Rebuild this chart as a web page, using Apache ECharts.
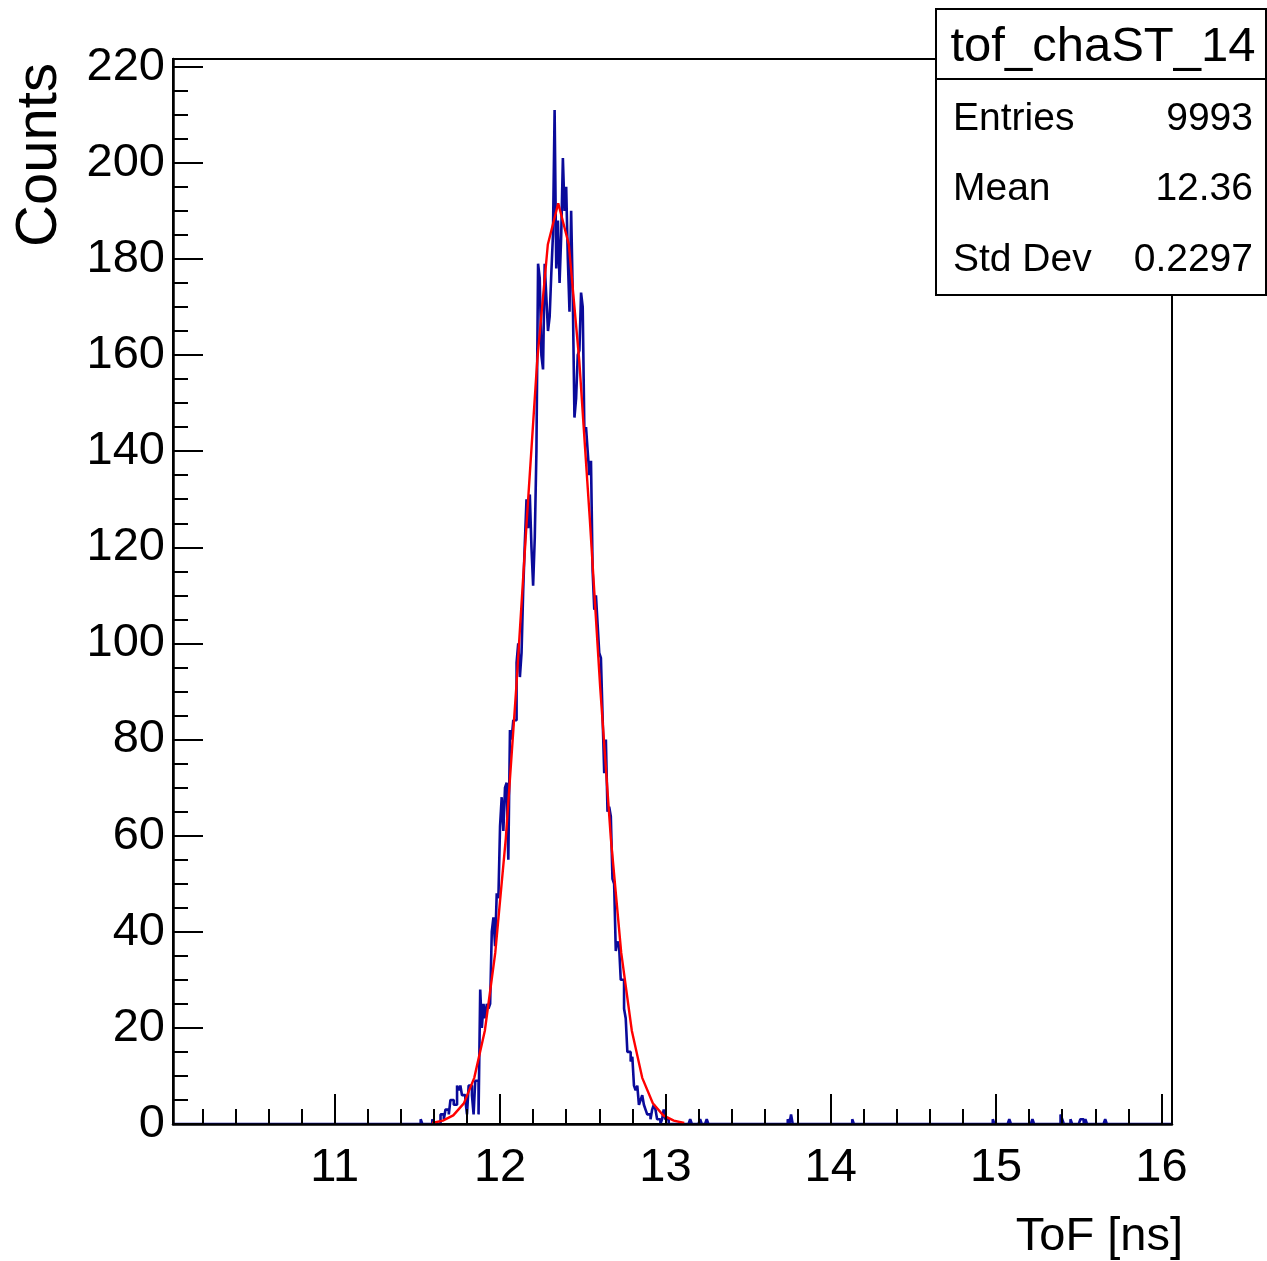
<!DOCTYPE html>
<html><head><meta charset="utf-8">
<script src="https://cdn.jsdelivr.net/npm/echarts@6/dist/echarts.min.js"></script>
<style>html,body{margin:0;padding:0;background:#fff}#c{width:1267px;height:1261px}</style>
</head><body><div id="c"></div>
<script>
// ---- data ----
const binStart = 11.50;   // left edge of first listed bin (ns)
const binWidth = 0.01;    // ns
const peakCounts = [
  0,0,1,0,0,0,0,0,0,1,          // 11.50-11.59
  0,0,0,0,2,2,1,3,3,2,          // 11.60-11.69
  5,5,4,4,8,7,8,6,6,5,          // 11.70-11.79
  2,8,8,6,2,9,9,2,28,20,        // 11.80-11.89
  25,22,25,24,25,40,43,37,48,47,// 11.90-11.99
  62,68,61,70,71,55,82,80,84,84,// 12.00-12.09
  96,100,93,98,111,121,130,124,131,120, // 12.10-12.19
  112,122,140,179,176,160,157,179,172,165, // 12.20-12.29
  168,177,185,211,178,188,175,185,201,190, // 12.30-12.39
  195,180,169,190,172,147,151,160,161,173, // 12.40-12.49
  170,144,145,140,135,138,115,107,110,104, // 12.50-12.59
  98,97,85,73,80,65,66,64,51,50,           // 12.60-12.69
  36,38,37,30,30,24,22,15,15,13,           // 12.70-12.79
  14,8,7,8,4,5,6,4,3,2,                    // 12.80-12.89
  2,1,3,4,3,1,1,0,1,3,                     // 12.90-12.99
  1,1,0,0,0,0,0,0,0,0,                     // 13.00-13.09
  0,0,0,0,0,1,0,0,0,0,                     // 13.10-13.19
  0,1,0,0,0,1,0,0,0,0                      // 13.20-13.29
];
const outlierBins   = [13.74, 13.76, 14.13, 14.98, 15.08, 15.22, 15.39, 15.40, 15.45, 15.51, 15.52, 15.54, 15.66];
const outlierCounts = [1,     2,     1,     1,     1,     1,     2,     1,     1,     1,     1,     1,     1];

const fitX = [11.59, 11.654, 11.717, 11.781, 11.844, 11.908, 11.971, 12.035, 12.098, 12.162, 12.225, 12.289, 12.352,
              12.416, 12.479, 12.543, 12.606, 12.67, 12.733, 12.797, 12.86, 12.924, 12.987, 13.051, 13.114];
const fitY = [0.2, 0.7, 1.8, 4.3, 9.6, 19.4, 35.6, 59.5, 90.7, 125.8, 158.9, 183, 191.6,
              183, 158.9, 125.8, 90.7, 59.5, 35.6, 19.4, 9.6, 4.3, 1.8, 0.7, 0.2];

const xTickValues = [11, 12, 13, 14, 15, 16];
const xTickLabels = ['11', '12', '13', '14', '15', '16'];
const yTickValues = [0, 20, 40, 60, 80, 100, 120, 140, 160, 180, 200, 220];
const yTickLabels = ['0','20','40','60','80','100','120','140','160','180','200','220'];

const statsTitle  = 'tof_chaST_14';
const statsNames  = ['Entries', 'Mean', 'Std Dev'];
const statsValues = ['9993', '12.36', '0.2297'];
const xTitle = 'ToF [ns]';
const yTitle = 'Counts';

// ---- build ----
const xMin = 10.022, xMax = 16.064, yMin = 0, yMax = 221.6;
const counts = {};
const i0 = Math.round(binStart / binWidth);
peakCounts.forEach((c, k) => { counts[i0 + k] = c; });
outlierBins.forEach((b, k) => { counts[Math.round(b / binWidth)] = (counts[Math.round(b / binWidth)] || 0) + outlierCounts[k]; });
const first = Math.floor(xMin / binWidth), last = Math.floor(xMax / binWidth);
const histData = [];
for (let i = first; i <= last; i++) histData.push([i * binWidth, counts[i] || 0]);
histData.push([xMax, counts[last] || 0]);
const fitData = fitX.map((x, k) => [x, fitY[k]]);

const xMinor = [], yMinor = [];
for (let i = 51; i <= 80; i++) { if (i % 5) xMinor.push(i / 5); }
for (let v = 5; v <= 220; v += 5) { if (v % 20) yMinor.push(v); }

const font = '"Liberation Sans", Arial, Helvetica, sans-serif';
const grid = { left: 173, top: 59, width: 999, height: 1065 };

const chart = echarts.init(document.getElementById('c'), null, { renderer: 'canvas' });
chart.setOption({
  animation: false,
  backgroundColor: '#fff',
  grid: Object.assign({ show: true, borderColor: '#000', borderWidth: 2, backgroundColor: '#fff' }, grid),
  xAxis: [{
    type: 'value', min: xMin, max: xMax, position: 'bottom', z: 10,
    axisLine: { lineStyle: { color: '#000', width: 2.5 } },
    axisTick: { inside: true, length: 30, lineStyle: { color: '#000', width: 2 }, customValues: xTickValues },
    axisLabel: { customValues: xTickValues, formatter: v => xTickLabels[xTickValues.indexOf(Math.round(v))],
                 color: '#000', fontFamily: font, fontSize: 47, margin: 21 },
    splitLine: { show: false }
  }, {
    type: 'value', min: xMin, max: xMax, position: 'bottom', z: 10,
    axisLine: { show: false },
    axisTick: { inside: true, length: 15, lineStyle: { color: '#000', width: 2 }, customValues: xMinor },
    axisLabel: { show: false }, splitLine: { show: false }
  }],
  yAxis: [{
    type: 'value', min: yMin, max: yMax, position: 'left', z: 10,
    axisLine: { show: true, lineStyle: { color: '#000', width: 2.5 } },
    axisTick: { show: true, inside: true, length: 30, lineStyle: { color: '#000', width: 2 }, customValues: yTickValues },
    axisLabel: { customValues: yTickValues, formatter: v => yTickLabels[yTickValues.indexOf(Math.round(v))],
                 color: '#000', fontFamily: font, fontSize: 47, margin: 8, padding: [8, 0, 0, 0] },
    splitLine: { show: false }
  }, {
    type: 'value', min: yMin, max: yMax, position: 'left', z: 10,
    axisLine: { show: false },
    axisTick: { show: true, inside: true, length: 15, lineStyle: { color: '#000', width: 2 }, customValues: yMinor },
    axisLabel: { show: false }, splitLine: { show: false }
  }],
  series: [{
    type: 'line', name: 'hist', data: histData, step: 'end', symbol: 'none', clip: true,
    xAxisIndex: 0, yAxisIndex: 0,
    lineStyle: { color: '#0a0a9a', width: 2.6 }, z: 3
  }, {
    type: 'line', name: 'fit', data: fitData, symbol: 'none', smooth: false, clip: true,
    xAxisIndex: 0, yAxisIndex: 0,
    lineStyle: { color: '#ff0000', width: 2.4 }, z: 4
  }],
  graphic: [
    { type: 'text', x: 40, y: 155, rotation: Math.PI / 2, z: 10,
      style: { text: yTitle, fontFamily: font, fontSize: 58, fill: '#000', align: 'center', verticalAlign: 'middle' } },
    { type: 'text', x: 1183, y: 1237, z: 10,
      style: { text: xTitle, fontFamily: font, fontSize: 47, fill: '#000', align: 'right', verticalAlign: 'middle' } },
    { type: 'rect', z: 20, shape: { x: 936, y: 9, width: 330, height: 286 },
      style: { fill: '#fff', stroke: '#000', lineWidth: 2 } },
    { type: 'line', z: 21, shape: { x1: 936, y1: 79, x2: 1266, y2: 79 }, style: { stroke: '#000', lineWidth: 2 } },
    { type: 'text', x: 1103, y: 47, z: 22,
      style: { text: statsTitle, fontFamily: font, fontSize: 49, fill: '#000', align: 'center', verticalAlign: 'middle' } },
    ...statsNames.map((n, k) => ({ type: 'text', x: 953, y: 119 + k * 70.5, z: 22,
      style: { text: n, fontFamily: font, fontSize: 39, fill: '#000', align: 'left', verticalAlign: 'middle' } })),
    ...statsValues.map((n, k) => ({ type: 'text', x: 1253, y: 119 + k * 70.5, z: 22,
      style: { text: n, fontFamily: font, fontSize: 39, fill: '#000', align: 'right', verticalAlign: 'middle' } }))
  ]
});
</script></body></html>
